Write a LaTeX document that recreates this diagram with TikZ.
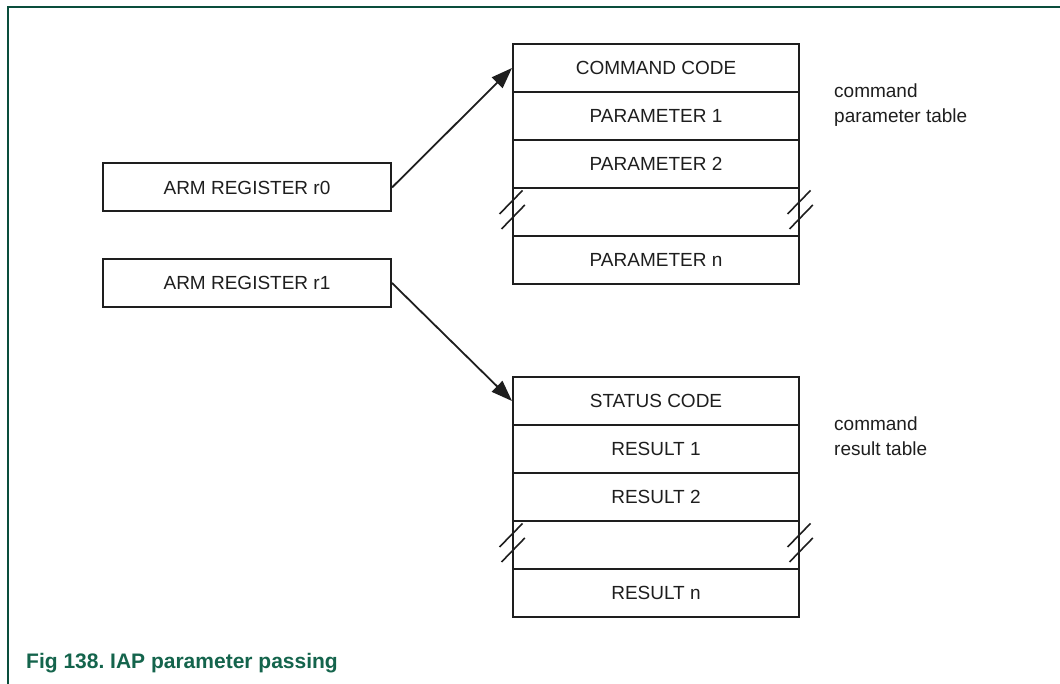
\documentclass[tikz,border=0pt]{standalone}
\usepackage{fontspec}
\setmainfont{Liberation Sans}
\usetikzlibrary{arrows.meta,calc}
\definecolor{framegreen}{RGB}{10,78,60}
\definecolor{capgreen}{RGB}{20,100,76}
\definecolor{ink}{RGB}{30,30,30}
\frenchspacing
\begin{document}
\begin{tikzpicture}[x=1pt,y=-1pt,
  cell/.style={draw=ink,line width=2pt,minimum width=286pt,minimum height=48pt,inner sep=0pt,
    font=\fontsize{19}{23}\selectfont,text=ink},
  reg/.style={cell,minimum width=288pt},
  link/.style={draw=ink,line width=1.8pt,-{Triangle[length=21pt,width=15pt]}},
  brk/.style={draw=ink,line width=1.6pt},
  note/.style={align=left,anchor=north west,inner sep=0pt,font=\fontsize{19}{25}\selectfont,text=ink},
  frame/.style={draw=framegreen,line width=1.5pt}
]
\useasboundingbox (0,0) rectangle (1060,684);
\draw[frame] (8,684) -- (8,7) -- (1060,7);

% registers
\node[reg] (r0) at (247,187.5) {ARM REGISTER r0};
\node[reg] (r1) at (247,283) {ARM REGISTER r1};

% command parameter table
\node[cell] (cc) at (656,68) {COMMAND CODE};
\node[cell] (p1) at (656,116) {PARAMETER 1};
\node[cell] (p2) at (656,164) {PARAMETER 2};
\node[cell] (pg) at (656,212) {};
\node[cell] (pn) at (656,260) {PARAMETER n};

% command result table
\node[cell] (sc) at (656,401) {STATUS CODE};
\node[cell] (s1) at (656,449) {RESULT 1};
\node[cell] (s2) at (656,497) {RESULT 2};
\node[cell] (sg) at (656,545) {};
\node[cell] (sn) at (656,593) {RESULT n};

% break marks
\foreach \g in {pg,sg}{
  \foreach \c in {north west,north east}{
    \draw[brk] ($(\g.\c)+(-12.5,27)$) -- ($(\g.\c)+(10.5,3.5)$);
    \draw[brk] ($(\g.\c)+(-10.5,42)$) -- ($(\g.\c)+(12.8,18)$);
  }
}

% connectors
\draw[link] (r0.east) -- (cc.west);
\draw[link] (r1.east) -- (sc.west);

% labels
\node[note] (lab1) at (834,84) {command\\parameter table};
\node[note] (lab2) at (834,417) {command\\result table};

% caption
\node[anchor=base west,inner sep=0pt,text=capgreen,font=\bfseries\fontsize{21}{25}\selectfont] (cap) at (26,668) {Fig 138. IAP parameter passing};
\end{tikzpicture}
\end{document}
